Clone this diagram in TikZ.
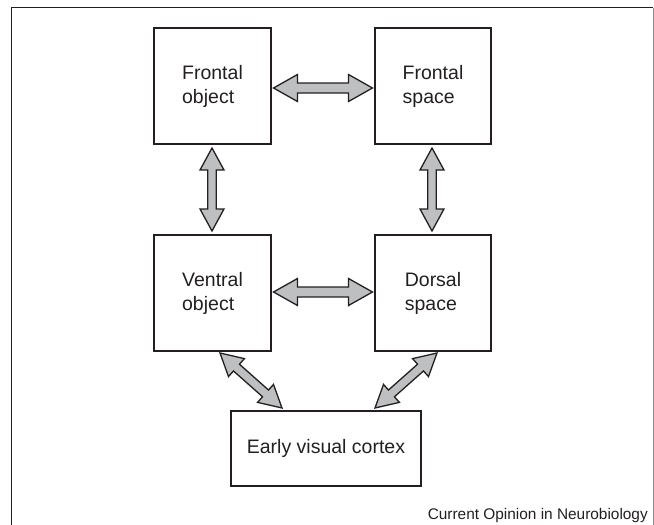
\documentclass[tikz,border=0pt]{standalone}
\usepackage{fontspec}
\setmainfont{Liberation Sans}
\usetikzlibrary{calc}
\definecolor{ink}{RGB}{35,31,32}
\definecolor{arrowfill}{RGB}{190,191,193}
\tikzset{
  box/.style={draw=ink, line width=1.5pt, inner sep=0pt, text=ink,
    font=\fontsize{19.5}{24}\selectfont, align=left},
  fatarrow/.style n args={3}{draw=ink, line width=1.3pt, fill=arrowfill, line join=miter,
    to path={
      (\tikztostart)
      -- ($(\tikztostart)!#1pt!(\tikztotarget)!#2pt!90:(\tikztotarget)$)
      -- ($(\tikztostart)!#1pt!(\tikztotarget)!#3pt!90:(\tikztotarget)$)
      -- ($(\tikztotarget)!#1pt!(\tikztostart)!#3pt!-90:(\tikztostart)$)
      -- ($(\tikztotarget)!#1pt!(\tikztostart)!#2pt!-90:(\tikztostart)$)
      -- (\tikztotarget)
      -- ($(\tikztotarget)!#1pt!(\tikztostart)!#2pt!90:(\tikztostart)$)
      -- ($(\tikztotarget)!#1pt!(\tikztostart)!#3pt!90:(\tikztostart)$)
      -- ($(\tikztostart)!#1pt!(\tikztotarget)!#3pt!-90:(\tikztotarget)$)
      -- ($(\tikztostart)!#1pt!(\tikztotarget)!#2pt!-90:(\tikztotarget)$)
      -- cycle
    }}
}
\begin{document}
\begin{tikzpicture}[x=1pt,y=-1pt]
\useasboundingbox (0,0) rectangle (654,525);
% frame
\draw[ink, line width=1.7pt] (11.5,525) -- (11.5,7.5) -- (653,7.5);
\draw[black!45, line width=0.9pt] (653,7.5) -- (653,525);
% boxes
\node[box, minimum width=117pt, minimum height=116pt] (fo) at (212.5,86) {Frontal\\object};
\node[box, minimum width=116pt, minimum height=116pt] (fs) at (433,86) {Frontal\\space};
\node[box, minimum width=117pt, minimum height=116pt] (vo) at (212.5,293) {Ventral\\object};
\node[box, minimum width=116pt, minimum height=116pt] (ds) at (433,293) {Dorsal\\space};
\node[box, minimum width=190pt, minimum height=75pt] (evc) at (326,448.5) {Early visual cortex};
% arrow end points
\coordinate (a1s) at (273.5,88);
\coordinate (a1e) at (372.5,88);
\coordinate (a2s) at (273.5,292);
\coordinate (a2e) at (372.5,292);
\coordinate (v1s) at (212,148);
\coordinate (v1e) at (212,231);
\coordinate (v2s) at (432,148);
\coordinate (v2e) at (432,231);
\coordinate (d1s) at (220,353);
\coordinate (d1e) at (282,408);
\coordinate (d2s) at (437,353);
\coordinate (d2e) at (375,408);
% arrows
\draw[fatarrow={24}{13.5}{5}] (a1s) to (a1e);
\draw[fatarrow={24}{13.5}{5}] (a2s) to (a2e);
\draw[fatarrow={22}{12}{4.2}] (v1s) to (v1e);
\draw[fatarrow={22}{12}{4.2}] (v2s) to (v2e);
\draw[fatarrow={22}{12}{4.5}] (d1s) to (d1e);
\draw[fatarrow={22}{12}{4.5}] (d2s) to (d2e);
% credit
\node[anchor=base east, inner sep=0pt, text=ink, font=\fontsize{15.4}{18}\selectfont] (credit) at (648,519) {Current Opinion in Neurobiology};
\end{tikzpicture}
\end{document}
